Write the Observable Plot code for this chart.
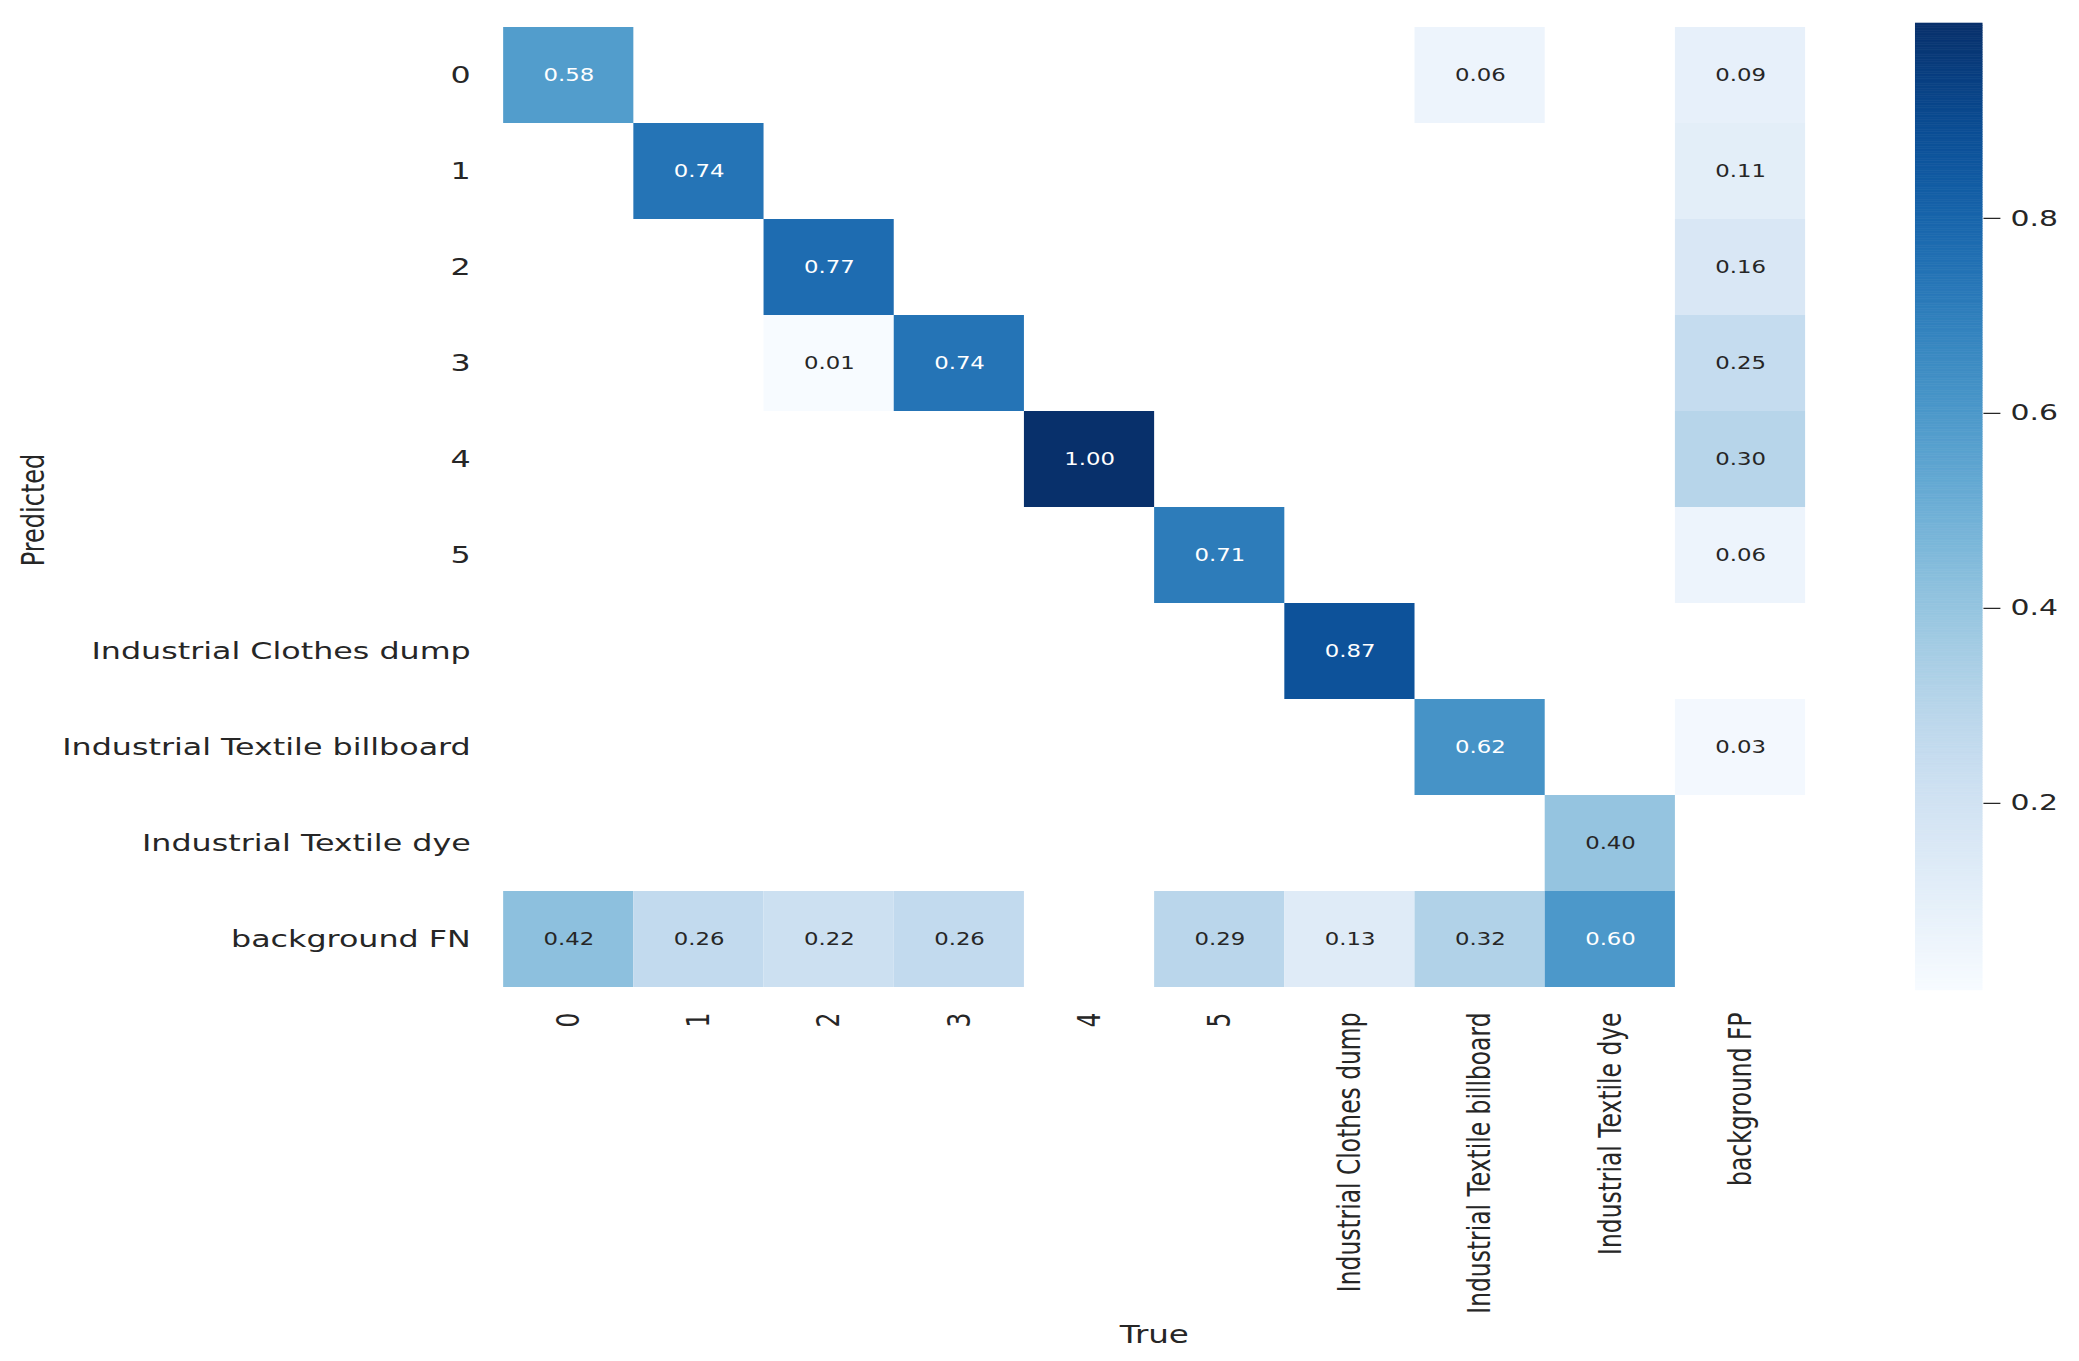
<!DOCTYPE html>
<html>
<head>
<meta charset="utf-8">
<script src="https://cdn.jsdelivr.net/npm/d3@7"></script>
<script src="https://cdn.jsdelivr.net/npm/@observablehq/plot@0.6"></script>
<style>
  html, body { margin: 0; padding: 0; background: white; overflow: hidden; }
  #wrap { position: relative; width: 1533px; height: 1361px; transform-origin: 0 0; transform: scaleX(1.3562); }
  #wrap svg { max-width: none; }
  #cbar { position: absolute; left: 1412.2px; top: 0; }
  #main { position: absolute; left: 0; top: 0; }
</style>
</head>
<body>
<div id="wrap"><div id="main"></div><div id="cbar"></div></div>
<script>
// Column categories (True) and row categories (Predicted)
const trueLabels = ["0", "1", "2", "3", "4", "5", "Industrial Clothes dump", "Industrial Textile billboard", "Industrial Textile dye", "background FP"];
const predictedLabels = ["0", "1", "2", "3", "4", "5", "Industrial Clothes dump", "Industrial Textile billboard", "Industrial Textile dye", "background FN"];

// Normalized confusion matrix, one array per predicted row (null = empty cell)
const row0 = [0.58, null, null, null, null, null, null, 0.06, null, 0.09];
const row1 = [null, 0.74, null, null, null, null, null, null, null, 0.11];
const row2 = [null, null, 0.77, null, null, null, null, null, null, 0.16];
const row3 = [null, null, 0.01, 0.74, null, null, null, null, null, 0.25];
const row4 = [null, null, null, null, 1.00, null, null, null, null, 0.30];
const row5 = [null, null, null, null, null, 0.71, null, null, null, 0.06];
const row6 = [null, null, null, null, null, null, 0.87, null, null, null];
const row7 = [null, null, null, null, null, null, null, 0.62, null, 0.03];
const row8 = [null, null, null, null, null, null, null, null, 0.40, null];
const row9 = [0.42, 0.26, 0.22, 0.26, null, 0.29, 0.13, 0.32, 0.60, null];
const matrix = [row0, row1, row2, row3, row4, row5, row6, row7, row8, row9];

// Colour bar range and ticks
const colorDomain = [0.008, 1.0];
const colorTicks = [0.2, 0.4, 0.6, 0.8];

const cells = [];
matrix.forEach((row, p) => row.forEach((v, t) => { if (v != null) cells.push({p, t, v}); }));

const idx = d3.range(10);
const font = "DejaVu Sans";
const ink = "#262626";

const main = Plot.plot({
  width: 1533,
  height: 1361,
  marginLeft: 367.3,
  marginRight: 199,
  marginTop: 23,
  marginBottom: 371,
  style: {fontFamily: font, color: ink, background: "white"},
  x: {type: "band", domain: idx, padding: 0, axis: null},
  y: {type: "band", domain: idx, padding: 0, axis: null},
  color: {type: "linear", scheme: "blues", domain: colorDomain},
  marks: [
    Plot.cell(cells, {x: "t", y: "p", fill: "v"}),
    Plot.text(cells.filter(d => d.v <= 0.5), {x: "t", y: "p", text: d => d.v.toFixed(2), fill: ink, fontSize: 16.8}),
    Plot.text(cells.filter(d => d.v > 0.5), {x: "t", y: "p", text: d => d.v.toFixed(2), fill: "white", fontSize: 16.8}),
    Plot.axisX({anchor: "bottom", tickSize: 0, tickPadding: 22, tickRotate: -90, textAnchor: "end", lineAnchor: "middle", fontSize: 23.4, tickFormat: i => trueLabels[i], label: null}),
    Plot.axisY({anchor: "left", tickSize: 0, tickPadding: 20.7, fontSize: 23.4, tickFormat: i => predictedLabels[i], label: null}),
    Plot.text(["True"], {frameAnchor: "bottom", dy: 352, lineAnchor: "bottom", fontSize: 24, fill: ink}),
    Plot.text(["Predicted"], {frameAnchor: "left", dx: -343, dy: 3, rotate: -90, lineAnchor: "middle", textAnchor: "middle", fontSize: 24, fill: ink})
  ]
});
document.getElementById("main").appendChild(main);

const N = 400;
const step = (colorDomain[1] - colorDomain[0]) / N;
const slices = d3.range(N).map(i => ({y1: colorDomain[0] + i * step, y2: colorDomain[0] + (i + 1) * step, c: colorDomain[0] + (i + 0.5) * step}));

const cbar = Plot.plot({
  width: 149.5,
  height: 1361,
  marginLeft: 0,
  marginRight: 100,
  marginTop: 23,
  marginBottom: 371,
  style: {fontFamily: font, color: ink, background: "transparent"},
  x: {domain: [0, 1], axis: null},
  y: {type: "linear", domain: colorDomain, axis: null},
  color: {type: "linear", scheme: "blues", domain: colorDomain},
  marks: [
    Plot.rect(slices, {x1: 0, x2: 1, y1: "y1", y2: "y2", fill: "c", stroke: "c", strokeWidth: 0.6}),
    Plot.axisY({anchor: "right", ticks: colorTicks, tickSize: 12.5, tickPadding: 8, strokeWidth: 1.3, fontSize: 22, tickFormat: d3.format(".1f"), label: null})
  ]
});
document.getElementById("cbar").appendChild(cbar);
</script>
</body>
</html>
